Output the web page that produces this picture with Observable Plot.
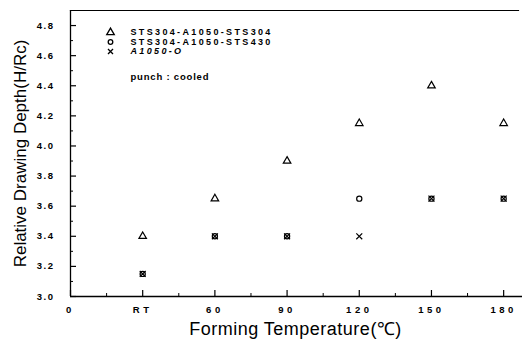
<!DOCTYPE html>
<html>
<head>
<meta charset="utf-8">
<script src="https://cdn.jsdelivr.net/npm/d3@7"></script>
<script src="https://cdn.jsdelivr.net/npm/@observablehq/plot@0.6"></script>
<style>
  html, body { margin: 0; padding: 0; background: #fff; }
  #chart svg { display: block; }
</style>
</head>
<body>
<div id="chart"></div>
<script>
// Forming temperature positions (RT plotted at 30)
const temps = [30, 60, 90, 120, 150, 180];
const tickValues = [0, 30, 60, 90, 120, 150, 180];
const tickLabels = ["0", "RT", "60", "90", "120", "150", "180"];
const minorX = [15, 45, 75, 105, 135, 165];
const yMajor = [3.0, 3.2, 3.4, 3.6, 3.8, 4.0, 4.2, 4.4, 4.6, 4.8];
const yMinor = [3.1, 3.3, 3.5, 3.7, 3.9, 4.1, 4.3, 4.5, 4.7];

// Series values
const sts304 = [3.4, 3.65, 3.9, 4.15, 4.4, 4.15];   // STS304-A1050-STS304 (triangle)
const sts430 = [3.15, 3.4, 3.4, 3.65, 3.65, 3.65];  // STS304-A1050-STS430 (circle)
const a1050  = [3.15, 3.4, 3.4, 3.4, 3.65, 3.65];   // A1050-O (cross)

const seriesNames = ["STS304-A1050-STS304", "STS304-A1050-STS430", "A1050-O"];
const note = "punch : cooled";

const rows = (vals) => temps.map((t, i) => ({t, v: vals[i]}));
const labelMap = new Map(tickValues.map((v, i) => [v, tickLabels[i]]));

const W = 524, H = 341, ML = 70, MR = 4, MT = 10, MB = 45;
const fw = W - ML - MR, fh = H - MT - MB;

const legendStyle = {fontSize: 9, fontWeight: "bold", fill: "black", textAnchor: "start", lineAnchor: "middle", fontFamily: "Liberation Sans, Arial, sans-serif"};

const chart = Plot.plot({
  width: W, height: H,
  marginLeft: ML, marginRight: MR, marginTop: MT, marginBottom: MB,
  style: {fontFamily: "Liberation Sans, Arial, sans-serif", background: "white", color: "black"},
  x: {domain: [0, 187], axis: null},
  y: {domain: [3.0, 4.9], axis: null},
  marks: [
    // frame lines: left, bottom, top
    Plot.ruleX([0], {stroke: "black", strokeWidth: 1.3}),
    Plot.ruleY([3.0], {stroke: "black", strokeWidth: 1.3, insetRight: -2}),
    Plot.frame({anchor: "top", stroke: "black", strokeWidth: 1.2, insetRight: 2}),
    // inward ticks
    Plot.ruleX(tickValues, {x: d => d, stroke: "black", strokeWidth: 1.2, insetTop: fh - 6}),
    Plot.ruleX(minorX, {x: d => d, stroke: "black", strokeWidth: 1, insetTop: fh - 3}),
    Plot.ruleY(yMajor, {y: d => d, stroke: "black", strokeWidth: 1.2, insetRight: fw - 6}),
    Plot.ruleY(yMinor, {y: d => d, stroke: "black", strokeWidth: 1, insetRight: fw - 3}),
    // tick labels
    Plot.text(tickValues, {x: d => d, y: 3.0, text: d => labelMap.get(d), dy: 13, fontSize: 9.5, fontWeight: "bold", fill: "black", className: "xlab"}),
    Plot.text(yMajor, {x: 0, y: d => d, text: d => d.toFixed(1), dx: -16, textAnchor: "end", fontSize: 9.5, fontWeight: "bold", fill: "black", className: "ylab"}),
    // data
    Plot.dot(rows(sts304), {x: "t", y: "v", symbol: "triangle", r: 2.8, stroke: "black", strokeWidth: 1.2, fill: "none"}),
    Plot.dot(rows(sts430), {x: "t", y: "v", symbol: "circle", r: 2.6, stroke: "black", strokeWidth: 1.2, fill: "none"}),
    Plot.dot(rows(a1050), {x: "t", y: "v", symbol: "times", r: 2.8, stroke: "black", strokeWidth: 1.2, fill: "none"}),
    // legend
    Plot.dot([0], {frameAnchor: "top-left", dx: 40, dy: 22, symbol: "triangle", r: 2.8, stroke: "black", strokeWidth: 1.3, fill: "none"}),
    Plot.dot([0], {frameAnchor: "top-left", dx: 40, dy: 31.5, symbol: "circle", r: 2.3, stroke: "black", strokeWidth: 1.3, fill: "none"}),
    Plot.dot([0], {frameAnchor: "top-left", dx: 40, dy: 41, symbol: "times", r: 2.4, stroke: "black", strokeWidth: 1.3, fill: "none"}),
    Plot.text([seriesNames[0]], {frameAnchor: "top-left", dx: 60, dy: 22, text: d => d, ...legendStyle, className: "leg"}),
    Plot.text([seriesNames[1]], {frameAnchor: "top-left", dx: 60, dy: 31.5, text: d => d, ...legendStyle, className: "leg"}),
    Plot.text([seriesNames[2]], {frameAnchor: "top-left", dx: 60, dy: 41, text: d => d, ...legendStyle, fontStyle: "italic", className: "leg"}),
    Plot.text([note], {frameAnchor: "top-left", dx: 60, dy: 66, text: d => d, ...legendStyle, fontSize: 9.5, className: "note"}),
    // axis titles
    Plot.text(["Forming Temperature(℃)"], {frameAnchor: "bottom", dy: 33, lineAnchor: "middle", text: d => d, fontSize: 18, fill: "black", className: "xtitle"}),
    Plot.text(["Relative Drawing Depth(H/Rc)"], {frameAnchor: "left", dx: -50, textAnchor: "middle", lineAnchor: "middle", text: d => d, rotate: -90, fontSize: 17, fill: "black", className: "ytitle"})
  ]
});

document.getElementById("chart").appendChild(chart);
chart.querySelectorAll(".xlab text").forEach(t => t.setAttribute("letter-spacing", "3.5"));
chart.querySelectorAll(".ylab text").forEach(t => t.setAttribute("letter-spacing", "1.5"));
chart.querySelectorAll(".leg text").forEach(t => t.setAttribute("letter-spacing", "2.35"));
chart.querySelectorAll(".note text").forEach(t => t.setAttribute("letter-spacing", "0.8"));
chart.querySelectorAll(".xtitle text").forEach(t => t.setAttribute("letter-spacing", "0.5"));
</script>
</body>
</html>
